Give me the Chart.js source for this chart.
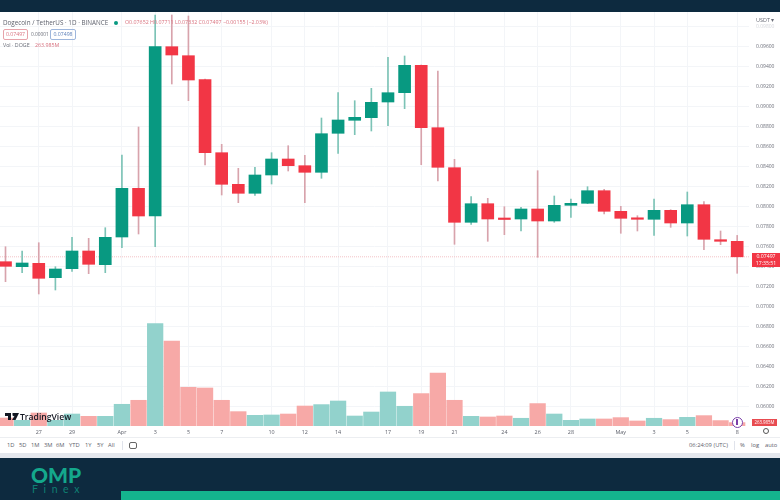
<!DOCTYPE html>
<html>
<head>
<meta charset="utf-8">
<title>DOGE/USDT</title>
<script src="https://cdn.jsdelivr.net/npm/chart.js@4/dist/chart.umd.min.js"></script>
<style>
  html, body { margin: 0; padding: 0; background: #fff; }
  body { width: 780px; height: 500px; position: relative; overflow: hidden; font-family: "Open Sans", sans-serif; }
  #chartBox { position: absolute; left: 0; top: 0; width: 780px; height: 437px; }
  .t { position: absolute; white-space: nowrap; font-size: 6px; line-height: 9px; color: #6a6d78; }
  .band { position: absolute; }
  .red { color: #d9727f; }
  .tb { top: 441px; font-size: 5.8px; color: #5d606b; }
</style>
</head>
<body>
<div id="chartBox"><canvas id="chart" width="780" height="437"></canvas></div>

<div class="band" style="left:0;top:0;width:780px;height:12px;background:#0d2a3f"></div>

<div class="t" style="left:3px;top:18px;font-size:6.3px;color:#5f626d">Dogecoin / TetherUS · 1D · BINANCE</div>
<div class="band" style="left:114px;top:21px;width:4px;height:4px;border-radius:50%;background:#089981"></div>
<div class="t" style="left:125px;top:18px;font-size:5.3px;color:#d9727f">O0.07652 H0.07711 L0.07332 C0.07497 −0.00155 (−2.03%)</div>

<div class="t red" style="left:3px;top:29px;width:23px;height:9px;border:1px solid #e7a3aa;border-radius:2px;text-align:center;font-size:5.2px">0.07497</div>
<div class="t" style="left:31px;top:30px;font-size:4.8px">0.00001</div>
<div class="t" style="left:50px;top:29px;width:24px;height:9px;border:1px solid #9db6dc;border-radius:2px;text-align:center;font-size:5.2px;color:#5b7fb8">0.07498</div>
<div class="t" style="left:3px;top:41px;font-size:5.3px">Vol · DOGE</div>
<div class="t red" style="left:35px;top:41px;font-size:5.3px">263.985M</div>

<div class="t" style="left:756px;top:16px;font-size:5.5px">USDT ▾</div>

<div class="t" style="left:752px;top:253px;width:28px;height:14px;background:#f23645;color:#fff;text-align:center;font-size:5.2px;line-height:7px">0.07497<br>17:35:51</div>
<div class="t" style="left:752px;top:419px;width:25px;height:7px;background:#e84b50;color:#fff;text-align:center;font-size:4.4px;line-height:7px">263.985M</div>

<svg class="band" style="left:5px;top:413px" width="14" height="8" viewBox="0 0 14 8">
  <path d="M0 0H6V7H3V3H0Z M7.5 0H14L10.5 7H7L9.8 2.4A1.2 1.2 0 0 1 7.5 2Z" fill="#131722"/>
</svg>
<div class="t" style="left:20px;top:411px;font-size:8.6px;line-height:12px;font-weight:600;color:#131722">TradingView</div>

<div class="band" style="left:732px;top:417px;width:9px;height:9px;border:1px solid #7b3fa8;border-radius:50%;background:#fff"></div>
<div class="band" style="left:736px;top:419px;width:2px;height:6px;background:#7b3fa8"></div>
<div class="band" style="left:763px;top:428px;width:4px;height:4px;border:1px solid #555;border-radius:50%"></div>

<div class="band" style="left:0;top:437px;width:780px;height:1px;background:#eceef1"></div>
<div class="t tb" style="left:7px">1D</div>
<div class="t tb" style="left:19px">5D</div>
<div class="t tb" style="left:31px">1M</div>
<div class="t tb" style="left:44px">3M</div>
<div class="t tb" style="left:56px">6M</div>
<div class="t tb" style="left:69px">YTD</div>
<div class="t tb" style="left:85px">1Y</div>
<div class="t tb" style="left:97px">5Y</div>
<div class="t tb" style="left:108px">All</div>
<div class="band" style="left:122px;top:441px;width:1px;height:9px;background:#e0e3eb"></div>
<div class="band" style="left:129px;top:442px;width:6px;height:5px;border:1px solid #666;border-radius:2px"></div>
<div class="t tb" style="left:689px">06:24:09 (UTC)</div>
<div class="band" style="left:734px;top:441px;width:1px;height:9px;background:#e0e3eb"></div>
<div class="t tb" style="left:740px">%</div>
<div class="t tb" style="left:751px">log</div>
<div class="t tb" style="left:765px">auto</div>

<div class="band" style="left:0;top:453px;width:780px;height:5px;background:#e4e7ed"></div>
<div class="band" style="left:0;top:458px;width:780px;height:42px;background:#0d2a3f"></div>
<div class="band" style="left:121px;top:491px;width:659px;height:9px;background:#14b48e"></div>
<div class="t" style="left:31px;top:464px;font-family:Lato,sans-serif;font-size:21px;line-height:22px;font-weight:900;color:#14a88c">OMP</div>
<div class="t" style="left:32px;top:483px;font-family:Lato,sans-serif;font-size:10.5px;line-height:12px;letter-spacing:5.6px;color:#0f7f73">Finex</div>

<script>
  // Mar 25 .. May 8, daily candles
  const days = ["25","26","27","28","29","30","31","Apr","2","3","4","5","6","7","8","9","10","11","12","13","14","15","16","17","18","19","20","21","22","23","24","25","26","27","28","29","30","May","2","3","4","5","6","7","8"];

  const opens = [0.07448,0.07398,0.07432,0.07288,0.07378,0.07555,0.07418,0.07695,0.08182,0.07905,0.09598,0.09508,0.09268,0.08538,0.08222,0.08132,0.08315,0.08475,0.08408,0.08342,0.08732,0.08862,0.08888,0.09045,0.09138,0.09412,0.08788,0.08388,0.07842,0.08028,0.07878,0.07875,0.07975,0.07855,0.08012,0.08032,0.08158,0.07952,0.07882,0.07872,0.07962,0.07835,0.08018,0.07668,0.07652];
  const highs = [0.07598,0.07555,0.07638,0.07398,0.07692,0.07682,0.07788,0.08515,0.08795,0.09915,0.09915,0.09905,0.09275,0.08622,0.08382,0.08392,0.08538,0.08608,0.08512,0.08885,0.09138,0.09058,0.09182,0.09492,0.09505,0.09415,0.09355,0.08472,0.08098,0.08082,0.07998,0.07992,0.08358,0.08105,0.08075,0.08198,0.08172,0.08002,0.07908,0.08075,0.07968,0.08145,0.08048,0.07755,0.07711];
  const lows = [0.07248,0.07338,0.07125,0.07165,0.07352,0.07328,0.07338,0.07588,0.07725,0.07598,0.09225,0.09058,0.08415,0.08115,0.08038,0.08112,0.08225,0.08355,0.08038,0.08282,0.08532,0.08718,0.08755,0.08808,0.08978,0.08418,0.08255,0.07622,0.07822,0.07652,0.07718,0.07755,0.07492,0.07842,0.07892,0.08028,0.07925,0.07732,0.07755,0.07712,0.07792,0.07705,0.07568,0.07618,0.07332];
  const closes = [0.07402,0.07435,0.07282,0.07375,0.07555,0.07422,0.07692,0.08182,0.07905,0.09598,0.09515,0.09265,0.08538,0.08222,0.08132,0.08315,0.08475,0.08408,0.08342,0.08728,0.08865,0.08892,0.09042,0.09138,0.09412,0.08788,0.08392,0.07842,0.08028,0.07875,0.07870,0.07975,0.07855,0.08012,0.08032,0.08158,0.07952,0.07882,0.07872,0.07962,0.07835,0.08018,0.07672,0.07652,0.07497];
  const volumes = [620,440,1010,440,930,750,750,1685,1995,7945,6595,3005,2950,1995,1115,830,855,930,1550,1660,1940,775,1085,2640,1530,2515,4115,1995,750,700,775,600,1740,930,440,545,545,650,390,600,495,675,805,420,264];

  const xTickIndex = [2,4,7,9,11,13,16,18,20,23,25,27,30,32,34,37,39,41,44];
  const xTickLabels = ["27","29","Apr","3","5","7","10","12","14","17","19","21","24","26","28","May","3","5","8"];
  const yTicks = [0.06,0.062,0.064,0.066,0.068,0.07,0.072,0.074,0.076,0.078,0.08,0.082,0.084,0.086,0.088,0.09,0.092,0.094,0.096,0.098];
  const lastPrice = 0.07497;

  const GREEN = "#089981", RED = "#f23645";
  const isUp = (i) => closes[i] >= opens[i];
  const idx = days.map((d, i) => i);

  const xMin = -0.331, xMax = 44.71;

  new Chart(document.getElementById("chart"), {
    type: "bar",
    data: {
      datasets: [
        {
          label: "Vol",
          yAxisID: "yVol",
          order: 4,
          grouped: false,
          barThickness: 15.6,
          data: idx.map((i) => ({ x: i, y: volumes[i] })),
          backgroundColor: idx.map((i) => (isUp(i) ? "#92d2cc" : "#f7a9a7")),
        },
        {
          type: "line",
          label: "Last",
          yAxisID: "y",
          order: 3,
          data: [{ x: xMin, y: lastPrice }, { x: xMax, y: lastPrice }],
          borderColor: "#f3c2c6",
          borderWidth: 1,
          borderDash: [1, 1],
          pointRadius: 0,
        },
        {
          label: "Wick",
          yAxisID: "y",
          order: 2,
          grouped: false,
          barThickness: 1,
          data: idx.map((i) => ({ x: i, y: [lows[i], highs[i]] })),
          backgroundColor: idx.map((i) => (isUp(i) ? "#7cc3b6" : "#d8a3ac")),
        },
        {
          label: "Body",
          yAxisID: "y",
          order: 1,
          grouped: false,
          barThickness: 12,
          minBarLength: 1.5,
          data: idx.map((i) => ({ x: i, y: [opens[i], closes[i]] })),
          backgroundColor: idx.map((i) => (isUp(i) ? GREEN : RED)),
        },
      ],
    },
    options: {
      responsive: false,
      animation: false,
      layout: { padding: { top: 12 } },
      plugins: { legend: { display: false }, tooltip: { enabled: false } },
      scales: {
        x: {
          type: "linear",
          offset: false,
          min: xMin,
          max: xMax,
          grid: { color: "#f3f5f8", drawTicks: false, offset: false },
          border: { display: false },
          afterBuildTicks: (s) => { s.ticks = xTickIndex.map((v) => ({ value: v })); },
          afterFit: (s) => { s.height = 11; },
          ticks: {
            autoSkip: false,
            maxRotation: 0,
            padding: 3,
            color: "#5d606b",
            font: { family: "Open Sans", size: 5.4 },
            callback: (v) => xTickLabels[xTickIndex.indexOf(v)],
          },
        },
        y: {
          position: "right",
          min: 0.05805,
          max: 0.09945,
          grid: { color: "#f3f5f8", drawTicks: false },
          border: { display: false },
          afterBuildTicks: (s) => { s.ticks = yTicks.map((v) => ({ value: v })); },
          afterFit: (s) => { s.width = 31; },
          ticks: {
            padding: 7,
            autoSkip: false,
            color: (c) => (c.tick && c.tick.value === 0.098 ? "#d5d7dc" : "#6a6d78"),
            font: { family: "Open Sans", size: 5 },
            callback: (v) => v.toFixed(5),
          },
        },
        yVol: {
          display: false,
          min: 0,
          max: 32130,
        },
      },
    },
  });
</script>
</body>
</html>
